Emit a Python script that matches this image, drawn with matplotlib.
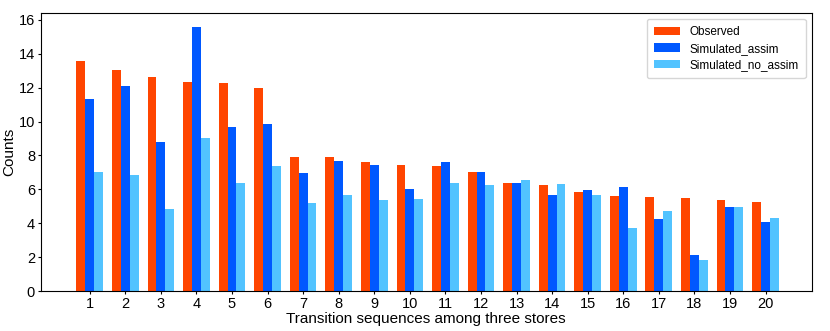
import numpy as np
import matplotlib.pyplot as plt

plt.rcParams['font.family'] = ['Liberation Sans', 'DejaVu Sans']

sequences = [str(i) for i in range(1, 21)]
observed = [13.55, 13.05, 12.6, 12.35, 12.3, 12.0, 7.9, 7.9, 7.6, 7.45,
            7.4, 7.05, 6.35, 6.25, 5.85, 5.6, 5.55, 5.5, 5.35, 5.25]
sim_assim = [11.35, 12.1, 8.8, 15.55, 9.7, 9.85, 6.95, 7.7, 7.45, 6.05,
             7.6, 7.0, 6.35, 5.65, 5.95, 6.15, 4.25, 2.15, 4.95, 4.1]
sim_no_assim = [7.05, 6.85, 4.85, 9.05, 6.35, 7.4, 5.2, 5.65, 5.4, 5.45,
                6.35, 6.25, 6.55, 6.3, 5.7, 3.75, 4.75, 1.85, 4.95, 4.3]

fig, ax = plt.subplots(figsize=(8.3, 3.31), dpi=100)
fig.subplots_adjust(left=0.049, right=0.978, top=0.961, bottom=0.12)

x = np.arange(1, len(sequences) + 1)
w = 0.25
ax.bar(x - w, observed, w, color='#FF4500', label='Observed')
ax.bar(x, sim_assim, w, color='#0058FF', label='Simulated_assim')
ax.bar(x + w, sim_no_assim, w, color='#52C3FF', label='Simulated_no_assim')

ax.set_xticks(x)
ax.set_xticklabels(sequences)
ax.set_xlim(-0.38, 21.3)
ax.set_ylim(0, 16.4)
ax.set_yticks(range(0, 17, 2))
ax.tick_params(labelsize=10.5, length=2, pad=2)
ax.set_xlabel('Transition sequences among three stores', fontsize=11, labelpad=1)
ax.set_ylabel('Counts', fontsize=11, labelpad=2)
ax.legend(fontsize=8.5, loc='upper right', handlelength=2.2, labelspacing=0.4,
          borderpad=0.6)

fig.savefig('out.png')
